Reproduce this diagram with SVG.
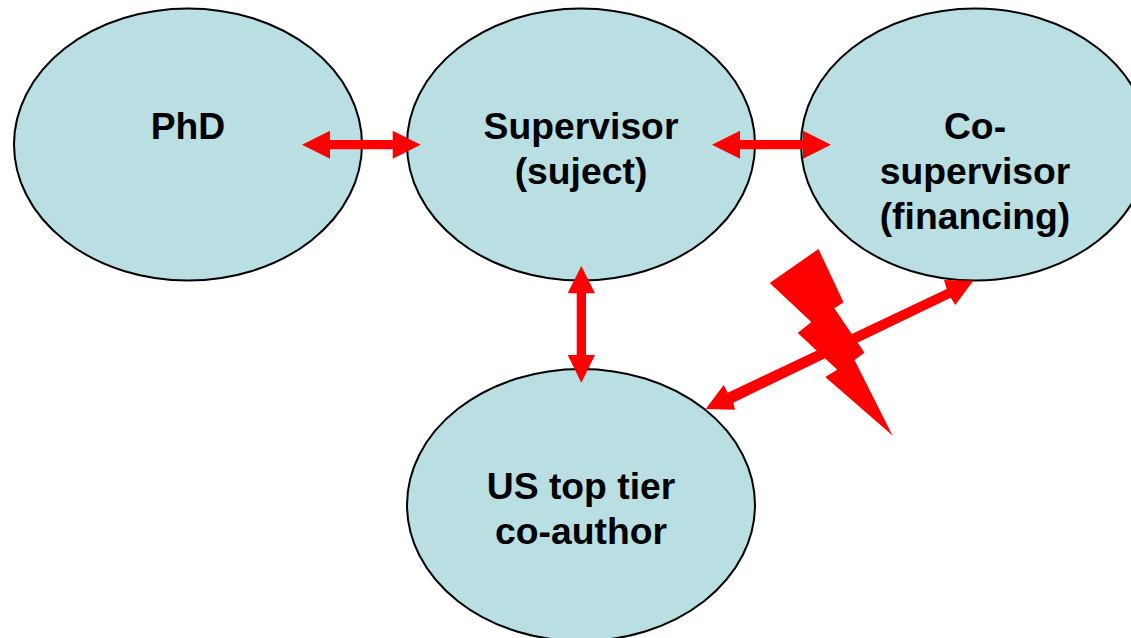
<svg xmlns="http://www.w3.org/2000/svg" width="1131" height="638" viewBox="0 0 1131 638">
<style>
.n{fill:#b9dfe2;stroke:#000;stroke-width:2}
.t{font-family:"Liberation Sans",Arial,sans-serif;font-size:37.3px;font-weight:bold;fill:#000;text-anchor:middle}
.a{fill:#f00;stroke:none}
</style>
<rect width="1131" height="638" fill="#fff"/>
<g id="node-phd"><ellipse class="n" cx="188" cy="144.5" rx="174" ry="136"/><text class="t" x="188" y="139">PhD</text></g>
<g id="node-supervisor"><ellipse class="n" cx="581" cy="144.5" rx="174" ry="136"/><text class="t" x="581" y="139">Supervisor</text><text class="t" x="581" y="184">(suject)</text></g>
<g id="node-cosupervisor"><ellipse class="n" cx="975" cy="144.5" rx="174" ry="136"/><text class="t" x="975" y="139">Co-</text><text class="t" x="975" y="184">supervisor</text><text class="t" x="975" y="229">(financing)</text></g>
<g id="node-coauthor"><ellipse class="n" cx="581" cy="505" rx="174" ry="136"/><text class="t" x="581" y="499">US top tier</text><text class="t" x="581" y="544">co-author</text></g>
<g id="connectors">
<polygon class="a" points="302,144.7 330,130.7 330,140 392.7,140 392.7,130.7 420.7,144.7 392.7,158.7 392.7,149.3 330,149.3 330,158.7"/>
<polygon class="a" points="712,144.7 740,130.7 740,140 803,140 803,130.7 831,144.7 803,158.7 803,149.3 740,149.3 740,158.7"/>
<polygon class="a" points="581.3,266 595,293.3 586,293.3 586,355 595,355 581.3,382.7 567.7,355 576.7,355 576.7,293.3 567.7,293.3"/>
<polygon class="a" points="973.3,280.7 955.3,305 950.7,297.7 733.3,402.7 735,409.7 705.7,409 723.7,385 727.7,392.7 946.7,289 944,280"/>
<polygon class="a" points="818.5,249 843.5,302.3 834.3,308.3 864.5,352.7 854.5,360 892.5,435.5 825.3,377 837.3,369.7 797.7,333 811.3,322 769.7,283"/>
</g>
</svg>
